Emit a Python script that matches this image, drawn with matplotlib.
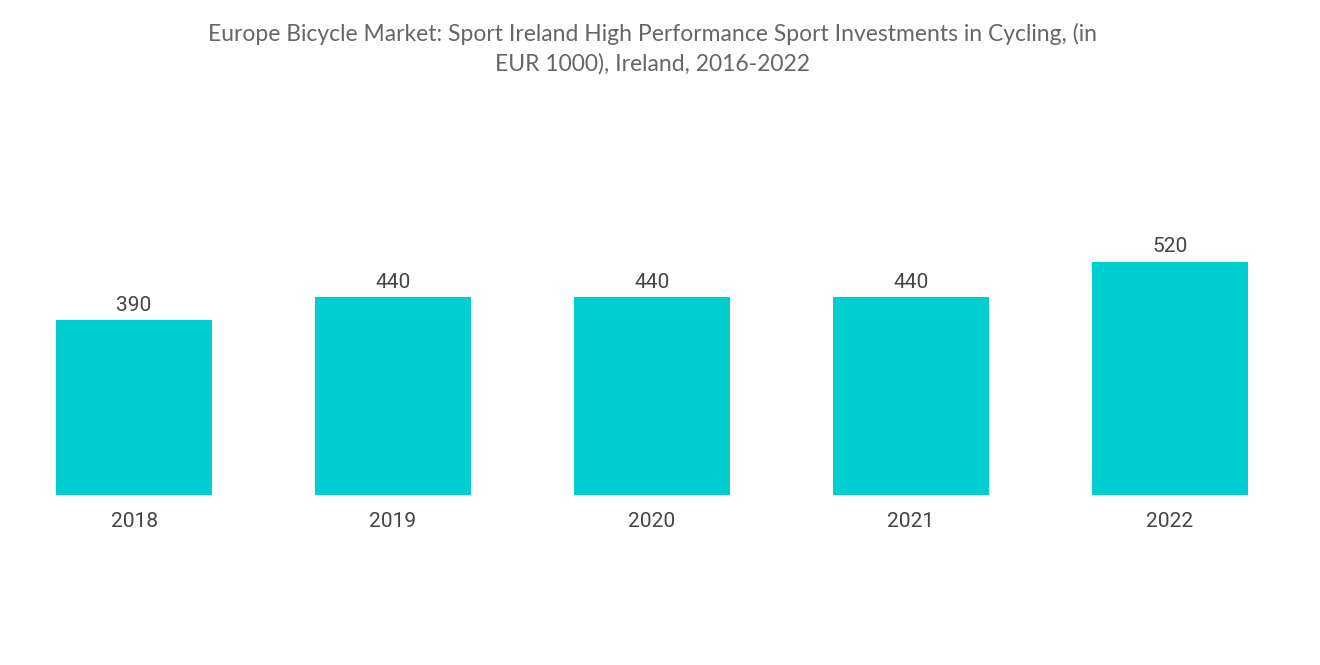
import matplotlib
matplotlib.use("Agg")
import matplotlib.pyplot as plt

years = ["2018", "2019", "2020", "2021", "2022"]
investments = [390, 440, 440, 440, 520]

bar_color = "#00CED1"
text_color = "#555555"

fig = plt.figure(figsize=(13.2, 6.65), dpi=100)
ax = fig.add_axes([4.5 / 1320, 1 - 495 / 665, 1295 / 1320, 0.405 * 600 / 600])
ax.set_ylim(0, 600)
ax.set_xlim(-0.5, 4.5)

x = list(range(len(years)))
bars = ax.bar(x, investments, width=0.6, color=bar_color)
for xi, v in zip(x, investments):
    ax.text(xi, v + 12, str(v), ha="center", va="bottom",
            fontsize=15, color="#444444", family="Roboto")

ax.set_xticks(x)
ax.set_xticklabels(years, fontsize=15, color="#444444", family="Roboto")
ax.tick_params(axis="x", length=0, pad=12)
ax.set_yticks([])
for s in ax.spines.values():
    s.set_visible(False)

fig.text(0.494, 0.965,
         "Europe Bicycle Market: Sport Ireland High Performance Sport Investments in Cycling, (in\nEUR 1000), Ireland, 2016-2022",
         ha="center", va="top", fontsize=16.5, color="#666666", family="Lato",
         linespacing=1.45)

fig.savefig("out.png", dpi=100)
